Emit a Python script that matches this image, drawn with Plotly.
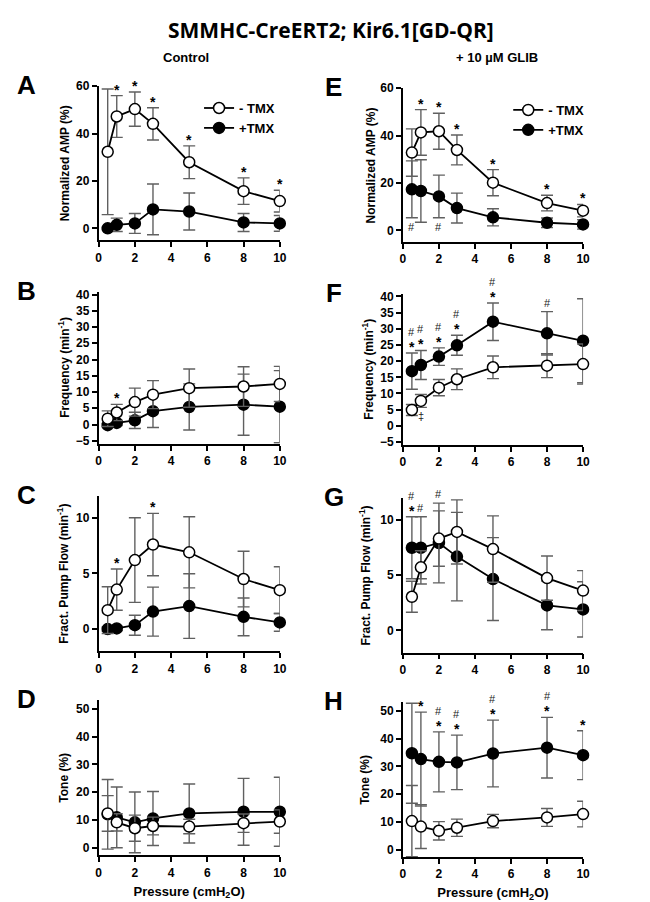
import plotly.graph_objects as go

W, H = 650, 902
FONT = "Liberation Sans, Arial, sans-serif"

pressure = [0.5, 1, 2, 3, 5, 8, 10]
x_ticks = [0, 2, 4, 6, 8, 10]
series_names = ["- TMX", "+TMX"]

# ---------- Panel A : Normalized AMP (%), Control ----------
A_minus = [32.3, 47.2, 50.3, 44.1, 27.9, 15.7, 11.5]
A_minus_sd = [26.5, 8.8, 7.2, 6.8, 6.9, 5.6, 4.6]
A_plus = [0.0, 1.5, 2.1, 8.0, 7.1, 2.5, 2.1]
A_plus_sd = [0.5, 2.8, 4.2, 10.7, 7.8, 3.8, 3.3]
A_above = ["", "*", "*", "*", "*", "*", "*"]
A_below = ["", "", "", "", "", "", ""]

# ---------- Panel B : Frequency, Control ----------
B_minus = [1.8, 3.7, 6.9, 9.2, 11.2, 11.7, 12.5]
B_minus_sd = [2.4, 2.5, 4.3, 4.3, 5.9, 6.1, 5.4]
B_plus = [-0.2, 0.5, 1.3, 4.1, 5.4, 6.1, 5.5]
B_plus_sd = [0.5, 0.8, 2.5, 5.0, 7.1, 9.4, 11.1]
B_above = ["", "*", "", "", "", "", ""]
B_below = ["", "", "", "", "", "", ""]

# ---------- Panel C : Fract. Pump Flow, Control ----------
C_minus = [1.7, 3.55, 6.2, 7.6, 6.9, 4.5, 3.5]
C_minus_sd = [2.1, 1.85, 3.8, 2.8, 3.2, 2.5, 2.1]
C_plus = [0.0, 0.06, 0.35, 1.57, 2.07, 1.1, 0.6]
C_plus_sd = [0.2, 0.2, 0.9, 2.2, 2.9, 1.7, 0.8]
C_above = ["", "*", "", "*", "", "", ""]
C_below = ["", "", "", "", "", "", ""]

# ---------- Panel D : Tone, Control ----------
D_minus = [12.4, 9.2, 7.1, 7.9, 7.7, 8.9, 9.5]
D_minus_sd = [6.4, 3.1, 4.7, 3.2, 2.6, 3.3, 4.2]
D_plus = [12.1, 11.0, 9.2, 10.6, 12.4, 13.0, 13.0]
D_plus_sd = [12.5, 10.9, 10.9, 9.7, 10.6, 12.0, 12.4]
D_above = ["", "", "", "", "", "", ""]
D_below = ["", "", "", "", "", "", ""]

# ---------- Panel E : Normalized AMP (%), + GLIB ----------
E_minus = [32.8, 41.3, 41.8, 33.9, 20.1, 11.5, 8.3]
E_minus_sd = [10.0, 9.6, 7.6, 6.3, 5.5, 3.3, 2.6]
E_plus = [17.3, 16.6, 14.3, 9.4, 5.5, 3.2, 2.5]
E_plus_sd = [12.0, 13.2, 9.0, 6.3, 3.6, 2.0, 2.0]
E_above = ["", "*", "*", "*", "*", "*", "*"]
E_below = ["#", "", "#", "", "", "", ""]

# ---------- Panel F : Frequency, + GLIB ----------
F_minus = [4.9, 7.7, 11.8, 14.4, 18.1, 18.6, 19.1]
F_minus_sd = [1.7, 2.0, 2.5, 3.2, 3.5, 3.7, 6.2]
F_plus = [16.9, 18.8, 21.4, 24.9, 32.2, 28.6, 26.3]
F_plus_sd = [5.6, 4.5, 2.7, 3.1, 5.8, 6.7, 13.0]
F_above = ["#*", "#*", "#*", "#*", "#*", "#", ""]
F_below = ["", "‡", "", "", "", "", ""]

# ---------- Panel G : Fract. Pump Flow, + GLIB ----------
G_minus = [3.04, 5.7, 8.3, 8.9, 7.35, 4.73, 3.6]
G_minus_sd = [1.4, 1.5, 2.5, 2.9, 3.0, 2.0, 1.8]
G_plus = [7.47, 7.47, 7.9, 6.67, 4.64, 2.26, 1.9]
G_plus_sd = [2.8, 2.8, 3.6, 4.0, 3.75, 2.2, 2.5]
G_above = ["#*", "#", "#", "", "", "", ""]
G_below = ["", "", "", "", "", "", ""]

# ---------- Panel H : Tone, + GLIB ----------
H_minus = [10.3, 8.3, 6.8, 7.9, 10.3, 11.6, 12.8]
H_minus_sd = [12.8, 7.9, 3.3, 3.1, 2.4, 3.2, 4.6]
H_plus = [34.7, 32.6, 31.6, 31.4, 34.6, 36.7, 34.0]
H_plus_sd = [18.0, 16.9, 10.8, 9.8, 12.0, 10.9, 8.8]
H_above = ["", "*", "#*", "#*", "#*", "#*", "*"]
H_below = ["", "", "", "", "", "", ""]

# tick labels / titles
amp_ticks = [0, 20, 40, 60]
freq_ticks = [-5, 0, 5, 10, 15, 20, 25, 30, 35, 40]
flow_ticks = [0, 5, 10]
tone_ticks = [0, 10, 20, 30, 40, 50]
amp_title = "Normalized AMP (%)"
freq_title = "Frequency (min<sup>-1</sup>)"
flow_title = "Fract. Pump Flow (min<sup>-1</sup>)"
tone_title = "Tone (%)"
x_title = "Pressure (cmH<sub>2</sub>O)"

# ---------- layout of panels (pixel boxes) ----------
LEFT = (89, 273)
RIGHT = (398, 581)
panels = [
    dict(letter="A", xpx=LEFT, ypx=(72, 228), yr=[-5, 60], tv=amp_ticks, yt=amp_title, ytx=55,
         m=A_minus, ms=A_minus_sd, p=A_plus, ps=A_plus_sd, up=A_above, dn=A_below, leg="legend"),
    dict(letter="B", xpx=LEFT, ypx=(280, 434), yr=[-5.9, 40.9], tv=freq_ticks, yt=freq_title, ytx=53,
         m=B_minus, ms=B_minus_sd, p=B_plus, ps=B_plus_sd, up=B_above, dn=B_below, leg=None),
    dict(letter="C", xpx=LEFT, ypx=(486.5, 644.2), yr=[-2, 12], tv=flow_ticks, yt=flow_title, ytx=53,
         m=C_minus, ms=C_minus_sd, p=C_plus, ps=C_plus_sd, up=C_above, dn=C_below, leg=None),
    dict(letter="D", xpx=LEFT, ypx=(693.3, 850.6), yr=[-2.6, 53.2], tv=tone_ticks, yt=tone_title, ytx=53,
         m=D_minus, ms=D_minus_sd, p=D_plus, ps=D_plus_sd, up=D_above, dn=D_below, leg=None, xt=True),
    dict(letter="E", xpx=RIGHT, ypx=(74, 230), yr=[-5, 60], tv=amp_ticks, yt=amp_title, ytx=366,
         m=E_minus, ms=E_minus_sd, p=E_plus, ps=E_plus_sd, up=E_above, dn=E_below, leg="legend2"),
    dict(letter="F", xpx=RIGHT, ypx=(282, 435.2), yr=[-5.9, 40.9], tv=freq_ticks, yt=freq_title, ytx=363,
         m=F_minus, ms=F_minus_sd, p=F_plus, ps=F_plus_sd, up=F_above, dn=F_below, leg=None),
    dict(letter="G", xpx=RIGHT, ypx=(488.6, 645.4), yr=[-2, 12], tv=flow_ticks, yt=flow_title, ytx=360,
         m=G_minus, ms=G_minus_sd, p=G_plus, ps=G_plus_sd, up=G_above, dn=G_below, leg=None),
    dict(letter="H", xpx=RIGHT, ypx=(695.3, 852.3), yr=[-2.6, 53.2], tv=tone_ticks, yt=tone_title, ytx=360,
         m=H_minus, ms=H_minus_sd, p=H_plus, ps=H_plus_sd, up=H_above, dn=H_below, leg=None, xt=True),
]

fig = go.Figure()
layout = dict(
    width=W, height=H, margin=dict(l=0, r=0, t=0, b=0),
    paper_bgcolor="white", plot_bgcolor="white",
    font=dict(family=FONT, color="black"),
    showlegend=True,
)
annotations = []
ERR_COLOR = "#606060"
star_font = dict(family=FONT, size=14, color="black", weight="bold")
mark_font = dict(family=FONT, size=11, color="#222222")

for i, pn in enumerate(panels, start=1):
    sx = "" if i == 1 else str(i)
    xr, yr_ = "x" + sx, "y" + sx
    x0, x1 = pn["xpx"]
    yt0, yb0 = pn["ypx"]
    xaxis = dict(
        domain=[x0 / W, x1 / W], range=[0, 10], anchor=yr_,
        tickvals=x_ticks, ticks="outside", ticklen=5, tickwidth=1.5, tickcolor="black",
        showline=True, linewidth=1.8, linecolor="black", showgrid=False, zeroline=False,
        tickfont=dict(family=FONT, size=12, color="black", weight="bold"),
        fixedrange=True,
    )
    if pn.get("xt"):
        xaxis["title"] = dict(text=x_title, standoff=8,
                              font=dict(family=FONT, size=13, color="black", weight="bold"))
    layout["xaxis" + sx] = xaxis
    layout["yaxis" + sx] = dict(
        domain=[1 - yb0 / H, 1 - yt0 / H], range=pn["yr"], anchor=xr,
        tickvals=pn["tv"], ticks="outside", ticklen=5, tickwidth=1.5, tickcolor="black",
        showline=True, linewidth=1.8, linecolor="black", showgrid=False, zeroline=False,
        tickfont=dict(family=FONT, size=12, color="black", weight="bold"),
        fixedrange=True,
    )
    # y-axis title as a rotated annotation
    annotations.append(dict(x=pn["ytx"] / W, y=1 - (yt0 + yb0) / 2 / H, xref="paper", yref="paper",
                            text="<b>%s</b>" % pn["yt"], showarrow=False, textangle=-90,
                            xanchor="center", yanchor="middle",
                            font=dict(family=FONT, size=12, color="black")))
    show = pn["leg"] is not None
    # +TMX (filled) first so open circles sit on top
    fig.add_trace(go.Scatter(
        x=pressure, y=pn["p"], mode="lines+markers", name=series_names[1],
        xaxis=xr, yaxis=yr_, cliponaxis=False,
        line=dict(color="black", width=1.8),
        marker=dict(symbol="circle", size=11, color="black", line=dict(color="black", width=1.5)),
        error_y=dict(type="data", array=pn["ps"], color=ERR_COLOR, thickness=1.4, width=6),
        showlegend=show, legend=pn["leg"] or "legend", legendrank=2,
    ))
    fig.add_trace(go.Scatter(
        x=pressure, y=pn["m"], mode="lines+markers", name=series_names[0],
        xaxis=xr, yaxis=yr_, cliponaxis=False,
        line=dict(color="black", width=1.8),
        marker=dict(symbol="circle", size=11, color="white", line=dict(color="black", width=1.5)),
        error_y=dict(type="data", array=pn["ms"], color=ERR_COLOR, thickness=1.4, width=6),
        showlegend=show, legend=pn["leg"] or "legend", legendrank=1,
    ))
    # significance marks
    for k, xv in enumerate(pressure):
        top = max(pn["m"][k] + pn["ms"][k], pn["p"][k] + pn["ps"][k])
        bot = min(pn["m"][k] - pn["ms"][k], pn["p"][k] - pn["ps"][k])
        s = pn["up"][k]
        if "*" in s:
            annotations.append(dict(x=xv, y=top, xref=xr, yref=yr_, text="*", showarrow=False,
                                    yanchor="middle", yshift=6, font=star_font))
        if "#" in s:
            annotations.append(dict(x=xv, y=top, xref=xr, yref=yr_, text="#", showarrow=False,
                                    yanchor="middle", yshift=21 if "*" in s else 9,
                                    font=mark_font))
        d = pn["dn"][k]
        if d:
            annotations.append(dict(x=xv, y=bot, xref=xr, yref=yr_, text=d, showarrow=False,
                                    yanchor="middle", yshift=-9, font=mark_font))
    # panel letter
    lx = 16 if x0 < 300 else 328
    annotations.append(dict(x=lx / W, y=1 - (yt0 - 1) / H, xref="paper", yref="paper",
                            text="<b>%s</b>" % pn["letter"], showarrow=False,
                            xanchor="center", yanchor="middle",
                            font=dict(family=FONT, size=26, color="black")))

# headings
annotations.append(dict(x=325 / W, y=1 - 15 / H, xref="paper", yref="paper",
                        text="<b>SMMHC-CreERT2; Kir6.1[GD-QR]</b>", showarrow=False,
                        xanchor="center", yanchor="middle",
                        font=dict(family="Open Sans, sans-serif", size=21, color="black")))
annotations.append(dict(x=178 / W, y=1 - 43 / H, xref="paper", yref="paper",
                        text="<b>Control</b>", showarrow=False, xanchor="center", yanchor="middle",
                        font=dict(family=FONT, size=13, color="black")))
annotations.append(dict(x=494 / W, y=1 - 43 / H, xref="paper", yref="paper",
                        text="<b>+ 10 µM GLIB</b>", showarrow=False, xanchor="center", yanchor="middle",
                        font=dict(family=FONT, size=13, color="black")))

legend_common = dict(xanchor="left", yanchor="top", bgcolor="rgba(0,0,0,0)", borderwidth=0,
                     font=dict(family=FONT, size=13, color="black", weight="bold"),
                     itemwidth=30, tracegroupgap=0, traceorder="normal")
layout["legend"] = dict(legend_common, x=191 / W, y=1 - 79 / H)
layout["legend2"] = dict(legend_common, x=505 / W, y=1 - 81 / H)
layout["annotations"] = annotations
fig.update_layout(**layout)
fig.write_html("out.html")
